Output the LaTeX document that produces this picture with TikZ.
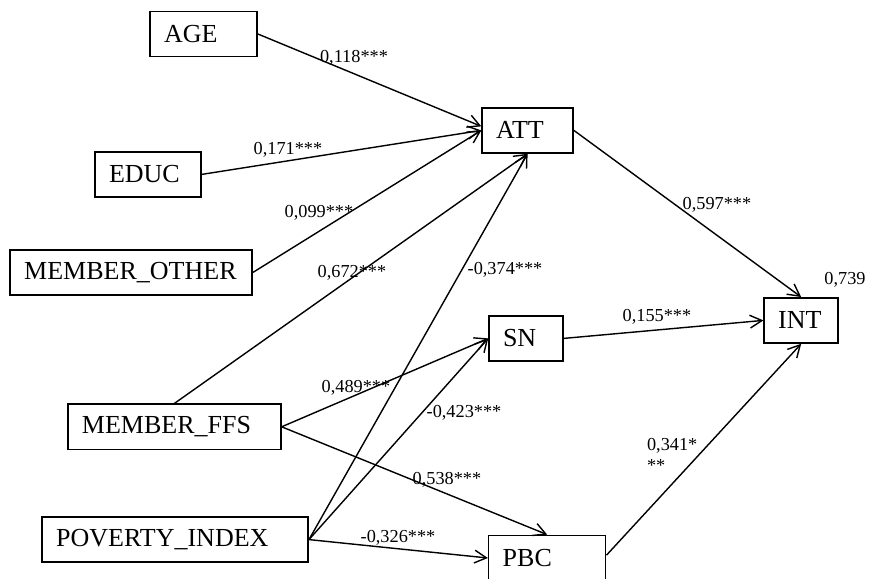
\documentclass[tikz,border=0pt]{standalone}
\usepackage{fontspec}
\setmainfont{Liberation Serif}
\usetikzlibrary{arrows.meta}

\tikzset{
  var/.style={draw, line width=1.1pt, minimum height=1.13cm, inner xsep=0.35cm,
    align=left, font=\fontsize{18.5}{20}\selectfont},
  coef/.style={inner sep=0pt, font=\fontsize{13}{15}\selectfont},
  effect/.style={line width=1pt, -{Straight Barb[length=3mm,width=3.2mm]}}
}

\begin{document}
\begin{tikzpicture}
  \useasboundingbox (0,0) rectangle (21.725,14.45);
  % predictors
  \node[var, text width=1.975cm] (age)    at (5.09,13.6)  {AGE};
  \node[var, text width=1.95cm]  (educ)   at (3.7,10.09)  {EDUC};
  \node[var, text width=5.35cm]  (mother) at (3.28,7.64)  {MEMBER\_OTHER};
  \node[var, text width=4.625cm] (mffs)   at (4.36,3.78)  {MEMBER\_FFS};
  \node[var, text width=5.95cm]  (pov)    at (4.38,0.96)  {POVERTY\_INDEX};
  % constructs
  \node[var, text width=1.575cm] (att) at (13.19,11.19) {ATT};
  \node[var, text width=1.15cm]  (sn)  at (13.15,5.99)  {SN};
  \node[var, text width=2.225cm] (pbc) at (13.68,0.5)   {PBC};
  \node[var, text width=1.15cm]  (int) at (20.03,6.44)  {INT};

  \draw[effect] (age.east) -- (att.175);
  \draw[effect] (educ.east) -- (att.west);
  \draw[effect] (mother.east) -- (att.west);
  \draw[effect] (mffs.north) -- (att.south);
  \draw[effect] (pov.east) -- (att.south);
  \draw[effect] (mffs.east) -- (sn.west);
  \draw[effect] (pov.east) -- (sn.west);
  \draw[effect] (mffs.east) -- (pbc.north);
  \draw[effect] (pov.east) -- (pbc.west);
  \draw[effect] (att.east) -- (int.north);
  \draw[effect] (sn.east) -- (int.west);
  \draw[effect] ([yshift=0.07cm]pbc.east) -- (int.south);

  % coefficients
  \node[coef] (cAge)   at (8.85,13.0)   {0,118***};
  \node[coef] (cEduc)  at (7.2,10.7)    {0,171***};
  \node[coef] (cOther) at (7.975,9.125) {0,099***};
  \node[coef] (cFfsA)  at (8.8,7.625)   {0,672***};
  \node[coef] (cPovA)  at (12.625,7.7)  {-0,374***};
  \node[coef] (cAtt)   at (17.925,9.325){0,597***};
  \node[coef] (rsq)    at (21.125,7.45) {0,739};
  \node[coef] (cSn)    at (16.425,6.525){0,155***};
  \node[coef] (cFfsS)  at (8.9,4.75)    {0,489***};
  \node[coef] (cPovS)  at (11.6,4.125)  {-0,423***};
  \node[coef] (cFfsP)  at (11.175,2.45) {0,538***};
  \node[coef] (cPovP)  at (9.95,1.0)    {-0,326***};
  \node[coef, anchor=west, align=left] (cPbc) at (16.17,3.08) {0,341*\\**};
\end{tikzpicture}
\end{document}
